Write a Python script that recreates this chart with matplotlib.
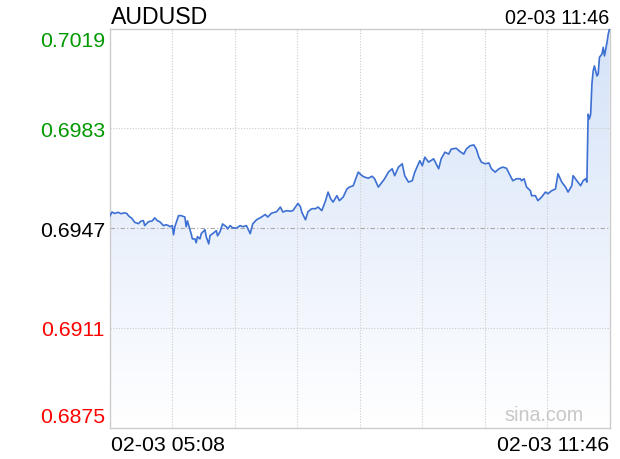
import numpy as np
import matplotlib
matplotlib.use("Agg")
import matplotlib.pyplot as plt
from matplotlib.colors import LinearSegmentedColormap

plt.rcParams['font.family'] = ['Liberation Sans', 'DejaVu Sans']

# AUDUSD intraday, minutes after 02-03 05:08
minutes = [
    0, 2, 4, 7, 9, 12, 14, 15, 18, 20, 23, 25, 27, 28, 31, 34, 36, 38, 40, 43,
    45, 47, 48, 50, 51, 52, 55, 57, 60, 61, 62, 65, 66, 68, 69, 70, 72, 73, 76, 77,
    79, 80, 83, 85, 86, 88, 90, 93, 94, 96, 98, 101, 104, 106, 109, 112, 114, 117, 121, 124,
    126, 129, 133, 136, 138, 141, 144, 146, 148, 150, 152, 153, 156, 158, 161, 164, 166, 169, 172, 174,
    176, 178, 181, 183, 186, 189, 191, 194, 197, 198, 201, 203, 206, 209, 211, 214, 217, 219, 222, 225,
    227, 230, 233, 235, 238, 241, 243, 247, 249, 251, 254, 258, 260, 262, 264, 267, 270, 272, 276, 279,
    282, 284, 287, 290, 292, 294, 296, 299, 302, 304, 307, 310, 313, 316, 319, 321, 324, 327, 328, 330,
    332, 335, 336, 339, 341, 344, 347, 349, 352, 355, 357, 360, 363, 365, 368, 369, 372, 375, 377, 379,
    380, 381, 382, 383, 384, 385, 386, 388, 389, 390, 392, 393, 394, 396, 397, 398,
]
prices = [
    0.69511, 0.69528, 0.69523, 0.69527, 0.69522, 0.69525, 0.69522, 0.69515, 0.69504, 0.69491,
    0.69486, 0.69495, 0.69497, 0.69479, 0.69493, 0.69496, 0.69507, 0.69497, 0.69493, 0.69479,
    0.69482, 0.69479, 0.69475, 0.69479, 0.69446, 0.69475, 0.69515, 0.69515, 0.69510, 0.69475,
    0.69496, 0.69450, 0.69431, 0.69431, 0.69417, 0.69439, 0.69431, 0.69450, 0.69464, 0.69439,
    0.69413, 0.69443, 0.69453, 0.69461, 0.69442, 0.69457, 0.69485, 0.69475, 0.69467, 0.69479,
    0.69471, 0.69470, 0.69479, 0.69475, 0.69479, 0.69450, 0.69485, 0.69500, 0.69510, 0.69519,
    0.69510, 0.69524, 0.69529, 0.69546, 0.69528, 0.69533, 0.69531, 0.69533, 0.69546, 0.69559,
    0.69547, 0.69528, 0.69500, 0.69529, 0.69540, 0.69540, 0.69546, 0.69533, 0.69569, 0.69600,
    0.69576, 0.69564, 0.69587, 0.69569, 0.69582, 0.69611, 0.69618, 0.69623, 0.69659, 0.69672,
    0.69659, 0.69654, 0.69650, 0.69657, 0.69648, 0.69618, 0.69636, 0.69648, 0.69672, 0.69684,
    0.69659, 0.69690, 0.69702, 0.69659, 0.69636, 0.69641, 0.69672, 0.69713, 0.69695, 0.69726,
    0.69708, 0.69720, 0.69702, 0.69684, 0.69720, 0.69744, 0.69737, 0.69755, 0.69758, 0.69746,
    0.69737, 0.69755, 0.69767, 0.69770, 0.69755, 0.69726, 0.69708, 0.69702, 0.69705, 0.69684,
    0.69672, 0.69684, 0.69690, 0.69686, 0.69659, 0.69641, 0.69648, 0.69648, 0.69641, 0.69648,
    0.69618, 0.69605, 0.69587, 0.69587, 0.69569, 0.69582, 0.69600, 0.69594, 0.69605, 0.69611,
    0.69666, 0.69636, 0.69618, 0.69600, 0.69623, 0.69659, 0.69641, 0.69623, 0.69641, 0.69648,
    0.69636, 0.69881, 0.69864, 0.69881, 0.69990, 0.70037, 0.70055, 0.70019, 0.70026, 0.70086,
    0.70098, 0.70122, 0.70091, 0.70140, 0.70170, 0.70188,
]
y_ticks = [0.7019, 0.6983, 0.6947, 0.6911, 0.6875]
prev_close = 0.6947
title = "AUDUSD"
start_label = "02-03 05:08"
end_label = "02-03 11:46"

x = np.array(minutes)
y = np.array(prices)
x_max = 398

fig = plt.figure(figsize=(6.2, 4.6), dpi=100)
ax = fig.add_axes([109.5 / 620, 31.3 / 460, 500 / 620, 399.2 / 460])
ax.set_xlim(0, x_max)
ax.set_ylim(y_ticks[-1], y_ticks[0])

# gradient fill under the line
poly = ax.fill_between(x, y, y_ticks[-1], facecolor='none', edgecolor='none')
cmap = LinearSegmentedColormap.from_list('blu', ['#ffffff', '#d4e2f8'])
grad = np.linspace(0, 1, 256).reshape(-1, 1)
im = ax.imshow(grad, cmap=cmap, aspect='auto', origin='lower',
               extent=[0, x_max, y_ticks[-1], y_ticks[0]], zorder=1)
im.set_clip_path(poly.get_paths()[0], transform=ax.transData)

# grid
for gx in np.linspace(0, x_max, 9)[1:-1]:
    ax.axvline(gx, color='#cccccc', lw=0.8, ls=(0, (1, 1.5)), zorder=2)
for gy in y_ticks[1:-1]:
    if gy == prev_close:
        ax.axhline(gy, color='#aaaaaa', lw=0.8, ls=(0, (4, 2, 1, 2)), zorder=2)
    else:
        ax.axhline(gy, color='#cccccc', lw=0.8, ls=(0, (1, 1.5)), zorder=2)

ax.plot(x, y, color='#3d70d2', lw=1.2, zorder=3)

ax.set_xticks([])
ax.set_yticks([])
for s in ax.spines.values():
    s.set_color('#cccccc')
    s.set_linewidth(1.0)

# y labels
ypos = {0.7019: 0.976, 0.6875: 0.033}
for v in y_ticks:
    if v > prev_close:
        c = '#009900'
    elif v < prev_close:
        c = '#ff0000'
    else:
        c = 'black'
    if v in ypos:
        ax.text(-0.009, ypos[v], f"{v:.4f}", transform=ax.transAxes,
                ha='right', va='center_baseline', fontsize=15.3, color=c)
    else:
        ax.text(-0.009, v, f"{v:.4f}", transform=ax.get_yaxis_transform(),
                ha='right', va='center_baseline', fontsize=15.3, color=c)

fig.text(110.7 / 620, 1 - 24 / 460, title, fontsize=16.7, ha='left', va='baseline')
fig.text(609.5 / 620, 1 - 24 / 460, end_label, fontsize=14.2, ha='right', va='baseline')
fig.text(110.7 / 620, 1 - 451 / 460, start_label, fontsize=15.3, ha='left', va='baseline')
fig.text(609.5 / 620, 1 - 451 / 460, end_label, fontsize=15.3, ha='right', va='baseline')
ax.text(0.948, 0.02, "sina.com", transform=ax.transAxes, fontsize=14.2,
        color='#c8c8c8', ha='right', va='baseline')

fig.savefig("out.png", dpi=100)
